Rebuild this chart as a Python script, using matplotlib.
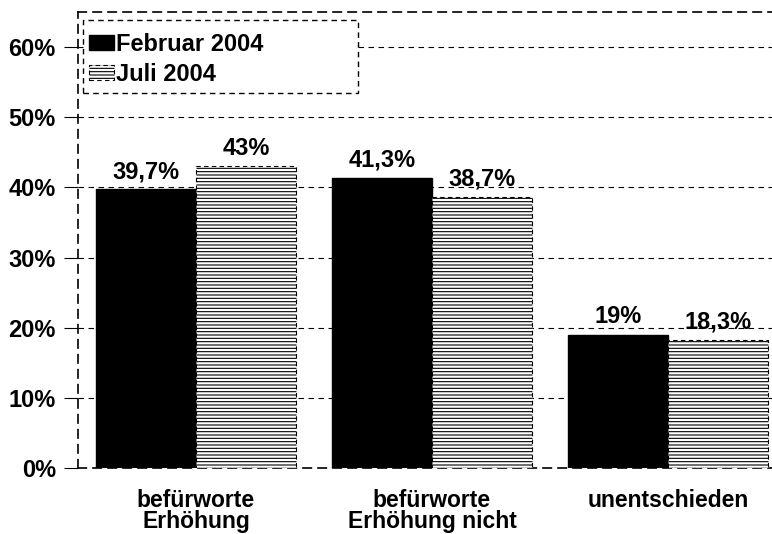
import matplotlib.pyplot as plt
import numpy as np
from matplotlib.patches import Rectangle

plt.rcParams["font.family"] = ["Liberation Sans", "DejaVu Sans"]
plt.rcParams["font.weight"] = "bold"
plt.rcParams["hatch.linewidth"] = 0.8

categories = ["befürworte\nErhöhung", "befürworte\nErhöhung nicht", "unentschieden"]
series = ["Februar 2004", "Juli 2004"]
feb = [39.7, 41.3, 19.0]
jul = [43.0, 38.7, 18.3]
feb_labels = ["39,7%", "41,3%", "19%"]
jul_labels = ["43%", "38,7%", "18,3%"]
yticks = [0, 10, 20, 30, 40, 50, 60]

FS = 17
W, H = 772, 534
fig = plt.figure(figsize=(W / 100, H / 100), dpi=100)
ax = fig.add_axes([78 / W, 1 - 468 / H, 708 / W, (468 - 12) / H])

x = np.arange(len(categories))
w = 0.424
ax.bar(x - w / 2, feb, w, color="black", edgecolor="black", zorder=3, label=series[0])
ax.bar(x + w / 2, jul, w, color="white", edgecolor="black", hatch="-----",
       linestyle=(0, (4, 3)), linewidth=0.8, zorder=3, label=series[1])

for xi, v, t in zip(x - w / 2, feb, feb_labels):
    ax.text(xi, v + 0.9, t, ha="center", va="bottom", fontsize=FS, fontweight="bold")
for xi, v, t in zip(x + w / 2, jul, jul_labels):
    ax.text(xi, v + 0.9, t, ha="center", va="bottom", fontsize=FS, fontweight="bold")

ax.set_xlim(-0.5, 2.5)
ax.set_ylim(0, 65)
ax.set_yticks(yticks)
ax.set_yticklabels([f"{t}%" for t in yticks], fontsize=FS, fontweight="bold")
ax.set_xticks(x)
ax.set_xticklabels(categories, fontsize=16.5, fontweight="bold", linespacing=0.88)
ax.tick_params(axis="x", length=0, pad=15)
ax.tick_params(axis="y", length=10, width=0.8, direction="out", pad=6)
ax.yaxis.grid(True, linestyle=(0, (5, 4)), color="black", linewidth=0.8, zorder=0)
ax.set_axisbelow(True)

for side in ["left", "bottom", "top"]:
    ax.spines[side].set_linestyle((0, (5, 4)))
    ax.spines[side].set_linewidth(1.2)
ax.spines["right"].set_visible(False)

# legend without its own frame; a wider dashed box is drawn separately
box = Rectangle((83 / W, 1 - 93 / H), 275 / W, 73 / H, transform=fig.transFigure,
                facecolor="white", edgecolor="black", linewidth=1.0,
                linestyle=(0, (4, 3)), zorder=5, clip_on=False)
ax.add_patch(box)
leg = ax.legend(loc="upper left", bbox_to_anchor=(89 / W, 1 - 33 / H),
                bbox_transform=fig.transFigure,
                fontsize=FS, frameon=False, handlelength=1.05,
                handleheight=0.6, handletextpad=0.1, borderpad=0,
                labelspacing=0.3, borderaxespad=0)
for t in leg.get_texts():
    t.set_fontweight("bold")
leg.set_zorder(6)

fig.savefig("out.png", dpi=100)
